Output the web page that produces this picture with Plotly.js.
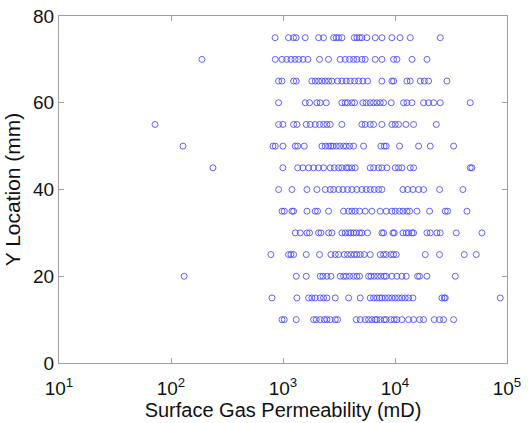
<!DOCTYPE html>
<html>
<head>
<meta charset="utf-8">
<script src="https://cdn.plot.ly/plotly-3.0.1.min.js"></script>
<style>html,body{margin:0;padding:0;background:#fff;}#chart{width:529px;height:423px;}</style>
</head>
<body>
<div id="chart"></div>
<script>
// Y locations (mm) of each measurement row
const yLocations = [75, 70, 65, 60, 55, 50, 45, 40, 35, 30, 25, 20, 15, 10];

// Surface gas permeability (mD) read for each row
const row75 = [850,1120,1240,1310,1580,2080,2300,2830,2990,3140,3360,4330,4570,4830,5060,5610,6660,7640,9380,11100,13700,25400];
const row70 = [189,853,979,1080,1180,1280,1380,1510,1670,2120,2550,3240,3590,3930,4270,4570,5060,5420,6660,7640,9710,10400,14200,19300];
const row65 = [913,979,1244,1313,1811,1940,2078,2225,2383,2553,2733,3071,3356,3670,3984,4355,4728,5168,5690,7639,9384,9711,12775,13681,16805,18260,19950,29081];
const row60 = [913,1581,1726,2008,2150,2433,3356,3594,3770,4124,4355,5168,5535,6010,6436,6893,7382,7906,9255,11928,12775,14160,17997,19950,22107,25355,46990];
const row55 = [72,913,998,1244,1331,1612,1750,1940,2120,2302,2466,2641,3356,5063,5422,6010,6436,7639,9384,10050,10760,12520,14652,23360];
const row50 = [128,813,853,998,1287,1352,1548,2225,2383,2553,2680,2790,2990,3200,3473,3670,3930,4266,5240,7480,8010,8350,10980,16240,20642,33354];
const row45 = [237,998,1352,1506,1692,1875,2078,2302,2641,2870,3135,3356,3670,3850,4124,4415,6010,6436,7133,7639,8467,10050,10760,11530,13681,14652,46990,48620];
const row40 = [913,1202,1636,2008,2383,2641,2829,3135,3430,3770,4124,4569,5063,5535,6010,6520,7133,7639,11770,12950,14450,16240,17997,25000,40420];
const row35 = [979,1026,1202,1244,1636,1940,2035,2553,3473,3850,4124,4415,4830,5422,6220,7382,8350,9384,10050,10980,11770,12775,13490,15692,20360,28100,29480,43877];
const row30 = [1287,1426,1636,1726,2078,2180,2553,2733,3356,3594,3850,4040,4266,4505,4830,5063,5690,7639,7906,9580,9850,11770,12600,13220,14160,14652,19274,20642,23675,25355,35240,59730];
const row25 = [780,1122,1177,1244,1612,2120,2680,2928,3135,3520,3770,4040,4325,4569,4893,5315,6010,7382,7906,8350,9190,9711,10260,18620,25000,41560,53150];
const row20 = [131,1313,1612,2150,2270,2466,2680,3243,3473,3670,3930,4266,4569,4830,5810,6100,6520,6990,7480,8010,8350,9384,10400,11530,12600,15930,16570,19274,34520];
const row15 = [797,1331,1692,1811,1940,2150,2302,2466,2928,3850,4893,6010,6436,6893,7280,7639,8180,8760,9384,10050,10760,11530,12340,13220,14450,26240,27540,28100,87100];
const row10 = [979,1026,1313,1875,1980,2150,2336,2466,2641,2928,3071,4505,4893,5422,5810,6220,6660,6893,7382,8010,8350,9190,9850,10400,11530,13220,14652,16570,17997,22430,25000,27154,33354];

const rows = [row75,row70,row65,row60,row55,row50,row45,row40,row35,row30,row25,row20,row15,row10];

// Axis tick labels
const xTickVals = [10, 100, 1000, 10000, 100000];
const xTickText = ['10<sup>1</sup>','10<sup>2</sup>','10<sup>3</sup>','10<sup>4</sup>','10<sup>5</sup>'];
const yTickVals = [0, 20, 40, 60, 80];

const xs = [], ys = [];
rows.forEach((r, i) => { r.forEach(v => { xs.push(v); ys.push(yLocations[i]); }); });

const trace = {
  x: xs, y: ys, type: 'scatter', mode: 'markers',
  marker: { symbol: 'circle-open', size: 6, color: 'rgb(70,70,255)', line: { width: 0.85, color: 'rgb(70,70,255)' } },
  hoverinfo: 'skip', showlegend: false
};

const FONT = 'Liberation Sans, Arial, sans-serif';
const axisCommon = {
  showgrid: false, zeroline: false, showline: true, linecolor: '#a0a0a0', linewidth: 1,
  mirror: 'ticks', ticks: 'inside', ticklen: 5, tickcolor: '#a0a0a0', tickwidth: 1,
  tickfont: { family: FONT, size: 19, color: '#111' }
};

const layout = {
  width: 529, height: 423,
  margin: { l: 59, r: 22, t: 16, b: 60 },
  paper_bgcolor: '#fff', plot_bgcolor: '#fff',
  font: { family: FONT, size: 19, color: '#111' },
  xaxis: Object.assign({}, axisCommon, {
    type: 'log', range: [1, 5], tickvals: xTickVals, ticktext: xTickText,
    ticklabelstandoff: 8,
    title: { text: 'Surface Gas Permeability (mD)', font: { family: FONT, size: 20 }, standoff: 1 }
  }),
  yaxis: Object.assign({}, axisCommon, {
    range: [0, 80], tickvals: yTickVals,
    title: { text: 'Y Location (mm)', font: { family: FONT, size: 21 }, standoff: 6 }
  })
};

Plotly.newPlot('chart', [trace], layout, { staticPlot: true, displayModeBar: false });
</script>
</body>
</html>
